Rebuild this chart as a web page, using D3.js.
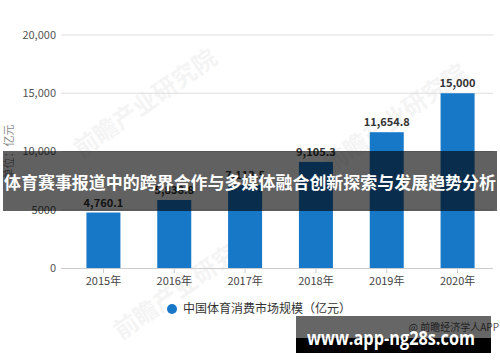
<!DOCTYPE html>
<html>
<head>
<meta charset="utf-8">
<script src="https://cdn.jsdelivr.net/npm/d3@7"></script>
<style>
  body { margin: 0; background: #fff; }
  svg { display: block; font-family: "Noto Sans CJK SC", "Noto Sans", sans-serif; }
</style>
</head>
<body>
<svg id="chart" width="500" height="362"></svg>
<script>
const years = ['2015年', '2016年', '2017年', '2018年', '2019年', '2020年'];
const values = [4760.1, 5838.8, 7113.5, 9105.3, 11654.8, 15000];
const valueLabels = ['4,760.1', '5,838.8', '7,113.5', '9,105.3', '11,654.8', '15,000'];
const yTicks = [0, 5000, 10000, 15000, 20000];
const yTickLabels = ['0', '5000', '10,000', '15,000', '20,000'];
const seriesName = '中国体育消费市场规模（亿元）';
const bannerText = '体育赛事报道中的跨界合作与多媒体融合创新探索与发展趋势分析';

const svg = d3.select('#chart');
const color = '#1878c8';

const x = d3.scaleBand().domain(years).range([68, 493]).paddingInner(0.52).paddingOuter(0.26);
const y = d3.scaleLinear().domain([0, 20000]).range([268, 35]);

// faint watermarks
[[150, 110], [400, 125], [190, 292]].forEach(([wx, wy]) => {
  svg.append('text')
    .attr('transform', `translate(${wx},${wy}) rotate(-35)`)
    .attr('text-anchor', 'middle')
    .attr('font-size', 24)
    .attr('font-weight', 'bold')
    .attr('fill', '#000')
    .attr('opacity', 0.04)
    .text('前瞻产业研究院');
});

// grid
svg.append('g')
  .selectAll('line')
  .data(yTicks.slice(1))
  .enter()
  .append('line')
  .attr('x1', 61)
  .attr('x2', 493)
  .attr('y1', (d) => y(d))
  .attr('y2', (d) => y(d))
  .attr('stroke', '#dedede');

svg.append('g')
  .selectAll('text')
  .data(yTicks)
  .enter()
  .append('text')
  .attr('x', 56)
  .attr('y', (d) => y(d))
  .attr('dy', '0.35em')
  .attr('text-anchor', 'end')
  .attr('font-size', 11)
  .attr('fill', '#555')
  .text((d, i) => yTickLabels[i]);

svg.append('text')
  .attr('transform', 'translate(13,152) rotate(-90)')
  .attr('text-anchor', 'middle')
  .attr('font-size', 11)
  .attr('fill', '#888')
  .text('单位：亿元');

// bars
svg.append('g')
  .selectAll('rect')
  .data(values)
  .enter()
  .append('rect')
  .attr('x', (d, i) => x(years[i]))
  .attr('width', x.bandwidth())
  .attr('y', (d) => y(d))
  .attr('height', (d) => y(0) - y(d))
  .attr('fill', color);

svg.append('g')
  .selectAll('text')
  .data(values)
  .enter()
  .append('text')
  .attr('x', (d, i) => x(years[i]) + x.bandwidth() / 2)
  .attr('y', (d) => y(d) - 6)
  .attr('text-anchor', 'middle')
  .attr('font-size', 11)
  .attr('font-weight', 'bold')
  .attr('fill', '#333')
  .text((d, i) => valueLabels[i]);

// x axis
const xAxis = svg.append('g')
  .attr('transform', `translate(0,${y(0)})`)
  .call(d3.axisBottom(x).tickSize(5).tickPadding(4));
xAxis.select('.domain').attr('stroke', '#ccc').attr('d', 'M61,0.5H493');
xAxis.selectAll('.tick line').attr('stroke', '#ccc');
xAxis.selectAll('.tick text')
  .attr('font-size', 11)
  .attr('fill', '#444')
  .attr('font-family', '"Noto Sans CJK SC", sans-serif');

// legend
svg.append('circle').attr('cx', 172).attr('cy', 309).attr('r', 5).attr('fill', color);
svg.append('text')
  .attr('x', 183)
  .attr('y', 309)
  .attr('dy', '0.35em')
  .attr('font-size', 12)
  .attr('fill', '#333')
  .text(seriesName);

svg.append('text')
  .attr('x', 499)
  .attr('y', 327)
  .attr('dy', '0.35em')
  .attr('text-anchor', 'end')
  .attr('font-size', 10)
  .attr('fill', '#555')
  .text('@ 前瞻经济学人APP');

// banner overlay
svg.append('rect')
  .attr('x', 3).attr('y', 151).attr('width', 494).attr('height', 60)
  .attr('fill', 'rgba(0,0,0,0.62)');
svg.append('text')
  .attr('x', 250)
  .attr('y', 183)
  .attr('dy', '0.35em')
  .attr('text-anchor', 'middle')
  .attr('font-size', 16.5)
  .attr('font-weight', 'bold')
  .attr('fill', '#fff')
  .attr('textLength', 492)
  .attr('lengthAdjust', 'spacingAndGlyphs')
  .text(bannerText);

// site box
svg.append('rect').attr('x', 296).attr('y', 316).attr('width', 195).attr('height', 22)
  .attr('fill', 'rgba(0,0,0,0.6)');
svg.append('rect').attr('x', 296).attr('y', 338).attr('width', 195).attr('height', 15)
  .attr('fill', '#000');
svg.append('text')
  .attr('x', 391)
  .attr('y', 338)
  .attr('dy', '0.35em')
  .attr('text-anchor', 'middle')
  .attr('font-family', '"Open Sans", "DejaVu Sans", sans-serif')
  .attr('font-size', 20)
  .attr('font-weight', 'bold')
  .attr('fill', '#fff')
  .attr('textLength', 168)
  .attr('lengthAdjust', 'spacingAndGlyphs')
  .text('www.app-ng28s.com');
</script>
</body>
</html>
